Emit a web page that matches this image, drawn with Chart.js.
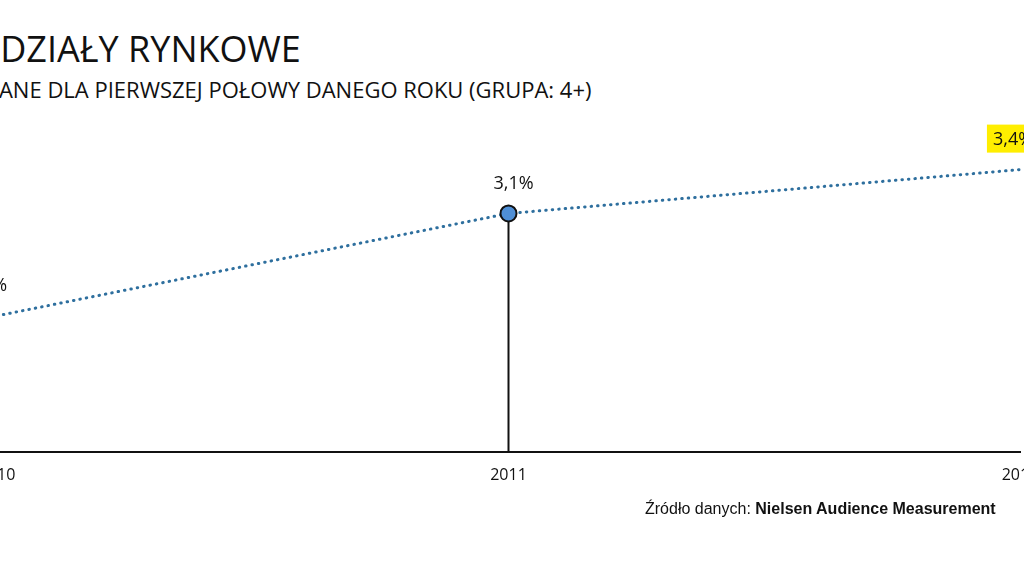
<!DOCTYPE html>
<html><head><meta charset="utf-8">
<script src="https://cdn.jsdelivr.net/npm/chart.js@4"></script>
<style>
body{margin:0;width:1024px;height:575px;overflow:hidden;background:#fff;position:relative;font-family:"Open Sans",sans-serif}
#t{position:absolute;left:-26px;top:24px;font-size:36px;color:#111;white-space:nowrap}
#s{position:absolute;left:-17px;top:74px;font-size:22px;color:#111;white-space:nowrap}
#src{position:absolute;left:645px;top:500px;font-size:16px;color:#111;white-space:nowrap;font-family:"Liberation Sans",Arial,sans-serif}
#wrap{position:absolute;left:-60px;top:0;width:1160px;height:575px}
</style></head><body>
<div id="t">UDZIAŁY RYNKOWE</div>
<div id="s">DANE DLA PIERWSZEJ POŁOWY DANEGO ROKU (GRUPA: 4+)</div>
<div id="wrap"><canvas id="c" width="1160" height="575"></canvas></div>
<div id="src">Źródło danych: <b>Nielsen Audience Measurement</b></div>
<script>
const years = ["2010","2011","2012"];
const shares = [2.4, 3.1, 3.4];
const labels = ["2,4%","3,1%","3,4%"];
const deco = {id:'deco',
 beforeDatasetsDraw(ch){const x=ch.scales.x,y=ch.scales.y,c=ch.ctx;c.save();c.strokeStyle='#111';c.lineWidth=2;
  const px=x.getPixelForValue(1);c.beginPath();c.moveTo(px,y.getPixelForValue(shares[1]));c.lineTo(px,y.bottom);c.stroke();c.restore();},
 afterDatasetsDraw(ch){const x=ch.scales.x,y=ch.scales.y,c=ch.ctx;c.save();c.font='18px "Open Sans"';c.textAlign='center';c.textBaseline='middle';
  shares.forEach((v,i)=>{const px=x.getPixelForValue(i)+5,py=y.getPixelForValue(v)-30;
   if(i===2){const w=c.measureText(labels[i]).width+12;c.fillStyle='#ffee00';c.fillRect(px-w/2-12,py-15,w,28);}
   c.fillStyle='#111';c.fillText(labels[i],i===2?px-12:(i===0?px-15:px),py);});
  c.restore();}};
new Chart(document.getElementById('c'),{type:'line',
 data:{labels:years,datasets:[{data:shares,borderColor:'#2e6f9e',borderWidth:3,borderDash:[0.5,6],borderCapStyle:'round',
  pointRadius:[0,8,0],pointBackgroundColor:'#4f8fd6',pointBorderColor:'#111',pointBorderWidth:2,tension:0}]},
 options:{responsive:false,animation:false,layout:{padding:{left:57,right:80,top:0,bottom:76}},
  plugins:{legend:{display:false},tooltip:{enabled:false}},
  scales:{y:{display:false,min:1.47,max:4.56},
   x:{offset:false,grid:{display:false,drawTicks:false},border:{color:'#111',width:2},
    ticks:{color:'#111',font:{size:16,family:'"Open Sans"'},padding:14}}}},
 plugins:[deco]});
</script></body></html>
